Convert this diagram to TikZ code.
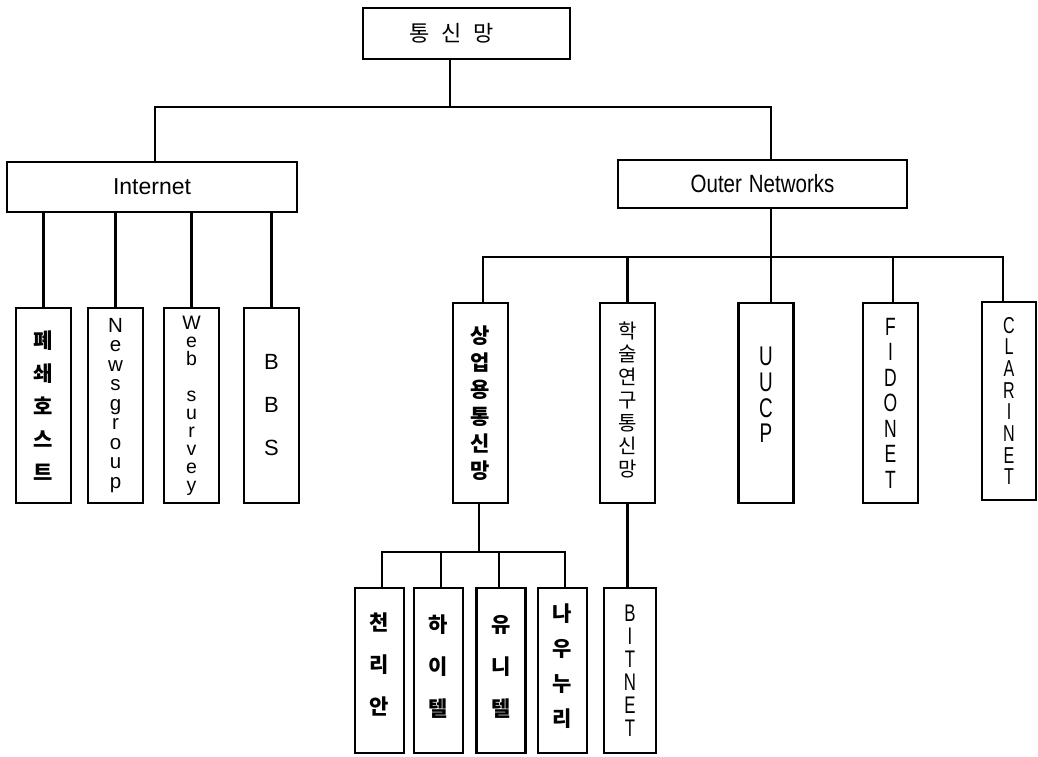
\documentclass[tikz,border=0pt]{standalone}
\usepackage{fontspec}
\setmainfont{Liberation Sans}
\newfontfamily\kr{Noto Sans CJK KR}
\newfontfamily\narrow[FakeStretch=0.7]{Liberation Sans}
\newfontfamily\semi[FakeStretch=0.82]{Liberation Sans}
\begin{document}
\begin{tikzpicture}[x=1pt,y=-1pt,line width=2.2pt,
  box/.style={draw,line width=2.2pt,inner sep=0pt,align=center},
  ibox/.style={box,minimum width=55pt,minimum height=195pt},
  obox/.style={box,minimum width=55pt,minimum height=200pt},
  bbox/.style={box,minimum width=49pt,minimum height=165pt},
  kb/.style={font={\kr\bfseries\fontsize{21}{#1}\selectfont}},
  kr/.style={font={\kr\fontsize{20}{#1}\selectfont}},
  lt/.style 2 args={font={\fontsize{#1}{#2}\selectfont}},
  nl/.style 2 args={font={\narrow\fontsize{#1}{#2}\selectfont}}]
\useasboundingbox (0,0) rectangle (1038,756);

% level 0 and 1
\node[draw,line width=2.2pt,inner sep=0pt,minimum width=207pt,minimum height=51pt,font={\kr\fontsize{22}{26}\selectfont}] (root) at (466.5,33.5) {통\hspace{12pt}신\hspace{12pt}망\rule{30pt}{0pt}};
\node[box,minimum width=290pt,minimum height=50pt,font={\fontsize{23}{26}\selectfont}] (inet) at (152,187) {Internet};
\node[box,minimum width=289pt,minimum height=48pt,font={\semi\fontsize{25}{28}\selectfont}] (outer) at (762.5,184) {Outer\hspace{7pt}Networks};

% Internet children
\node[ibox,kb=33] (c1) at (43.5,405.5) {폐\\쇄\\호\\스\\트};
\node[ibox,lt={20.5}{19.5}] (c2) at (115.5,405.5) {N\\e\\w\\s\\g\\r\\o\\u\\p};
\node[ibox,lt={19.5}{18}] (c3) at (191.5,405.5) {W\\e\\b\\[18pt]s\\u\\r\\v\\e\\y};
\node[ibox,lt={22}{43}] (c4) at (271.5,405.5) {B\\B\\S};

% Outer children
\node[obox,kb=27] (s1) at (480.5,403) {상\\업\\용\\통\\신\\망};
\node[obox,kr=23,text depth=8pt] (s2) at (627.5,403) {학\\술\\연\\구\\통\\신\\망};
\node[obox,nl={27}{25.6},text depth=16pt] (s3) at (766,403) {U\\U\\C\\P};
\node[obox,nl={25}{25.5}] (s4) at (890.5,403) {F\\I\\D\\O\\N\\E\\T};
\node[box,minimum width=54pt,minimum height=198pt,nl={23}{21.7}] (s5) at (1009,401) {C\\L\\A\\R\\I\\N\\E\\T};

% bottom row
\node[bbox,kb=42,text depth=14pt] (b1) at (379.5,670.5) {천\\리\\안};
\node[bbox,kb=42,text depth=10pt] (b2) at (438.5,670.5) {하\\이\\텔};
\node[bbox,kb=42,text depth=10pt] (b3) at (501,670.5) {유\\니\\텔};
\node[bbox,kb=35,text depth=10pt] (b4) at (562.5,670.5) {나\\우\\누\\리};
\node[box,minimum width=52pt,minimum height=165pt,nl={24}{23}] (b5) at (630,670.5) {B\\I\\T\\N\\E\\T};

% connectors
\coordinate (j0) at (450,107);
\draw (root.south -| j0) -- (j0);
\draw ([xshift=3pt]inet.north) |- (j0) -| ([xshift=8.5pt]outer.north);
\foreach \n in {c1,c2,c3,c4} \draw (\n.north) -- (\n.north |- inet.south);

\coordinate (j1) at (771,257);
\draw (outer.south -| j1) -- (j1 |- s3.north);
\draw ([xshift=2.5pt]s1.north) |- (j1) -| ([xshift=-6pt]s5.north);
\draw (s2.north) -- (s2.north |- j1);
\draw ([xshift=2.5pt]s4.north) -- ([xshift=2.5pt]s4.north |- j1);

\coordinate (j2) at (479,552);
\draw (s1.south -| j2) -- (j2);
\draw ([xshift=2.5pt]b1.north) |- (j2) -| ([xshift=2.5pt]b4.north);
\draw ([xshift=2.5pt]b2.north) -- ([xshift=2.5pt]b2.north |- j2);
\draw ([xshift=-2pt]b3.north) -- ([xshift=-2pt]b3.north |- j2);
\draw (s2.south) -- (s2.south |- b5.north);
\end{tikzpicture}
\end{document}
